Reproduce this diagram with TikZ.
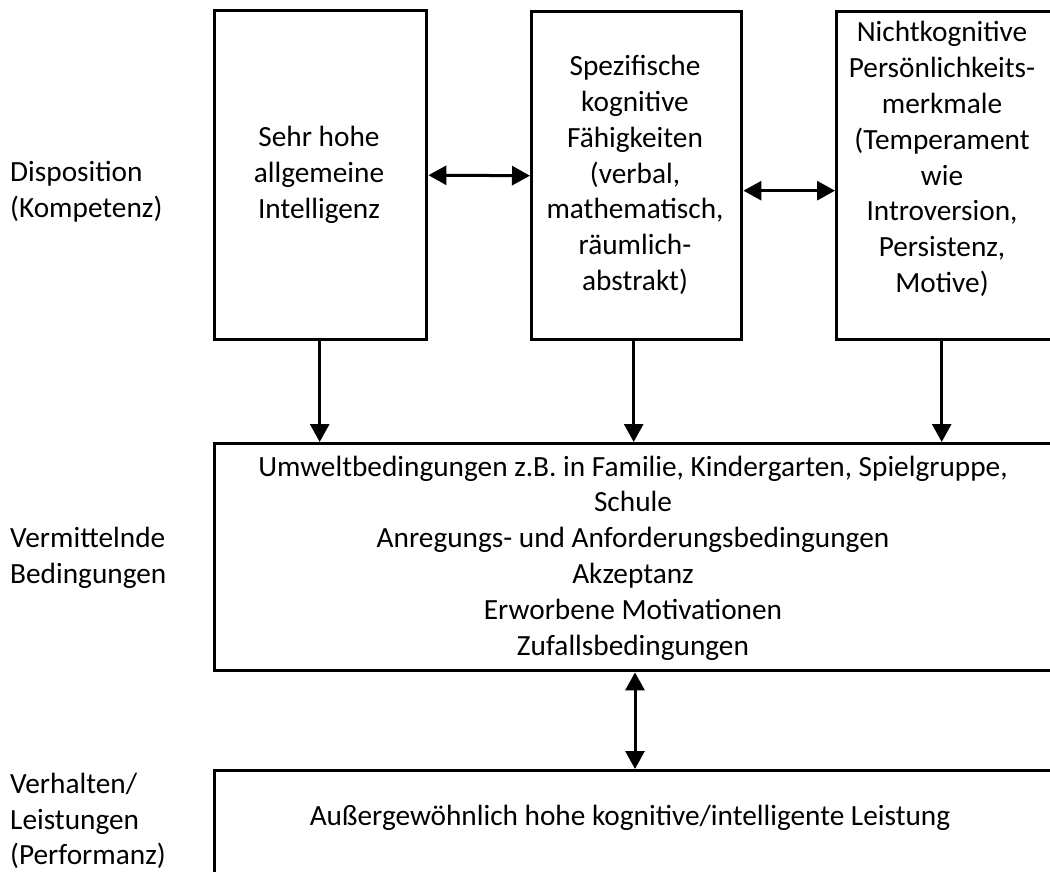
\documentclass[tikz,border=0pt]{standalone}
\usepackage{fontspec}
\setmainfont{Carlito}
\usetikzlibrary{arrows.meta}
\begin{document}
\begin{tikzpicture}[x=1pt,y=-1pt,
  font=\fontsize{29.3}{35.8}\selectfont,
  box/.style={draw,line width=3.4pt,rectangle,inner sep=0pt,anchor=north west},
  txt/.style={align=center,inner sep=0pt},
  side/.style={align=left,inner sep=0pt,anchor=west},
  arr/.style={line width=3pt,-{Triangle[width=19pt,length=18pt]}},
  darr/.style={line width=3pt,{Triangle[width=19pt,length=18pt]}-{Triangle[width=19pt,length=18pt]}}]
\useasboundingbox (0,0) rectangle (1050,872);
\clip (0,0) rectangle (1050,872);

% dispositional boxes
\node[box,minimum width=212pt,minimum height=329pt] (b1) at (213,9) {};
\node[box,minimum width=210pt,minimum height=328pt] (b2) at (530,10) {};
\node[box,minimum width=216pt,minimum height=328pt] (b3) at (835,10) {};
\node[txt] (t1) at (319,175) {Sehr hohe\\allgemeine\\Intelligenz};
\node[txt] (t2) at (635,175) {Spezifische\\kognitive\\Fähigkeiten\\(verbal,\\mathematisch,\\räumlich-\\abstrakt)};
\node[txt] (t3) at (942,159) {Nichtkognitive\\Persönlichkeits-\\merkmale\\(Temperament\\wie\\Introversion,\\Persistenz,\\Motive)};

% mediating conditions
\node[box,minimum width=842pt,minimum height=227pt] (m) at (213,442) {};
\node[txt] (tm) at (633,558) {Umweltbedingungen z.B. in Familie, Kindergarten, Spielgruppe,\\Schule\\Anregungs- und Anforderungsbedingungen\\Akzeptanz\\Erworbene Motivationen\\Zufallsbedingungen};

% performance
\node[box,minimum width=842pt,minimum height=130pt] (p) at (213,769) {};
\node[txt] (tp) at (630,818) {Außergewöhnlich hohe kognitive/intelligente Leistung};

% row labels
\node[side] (l1) at (10,192) {Disposition\\(Kompetenz)};
\node[side] (l2) at (10,558) {Vermittelnde\\Bedingungen};
\node[side] (l3) at (10,821) {Verhalten/\\Leistungen\\(Performanz)};

% connectors
\draw[darr] (b1.east) -- (b2.west);
\draw[darr] ([yshift=-15pt]b2.east) -- ([yshift=-15pt]b3.west);
\draw[arr] ([xshift=-1pt]b1.south) -- ([xshift=-1pt]b1.south |- m.north);
\draw[arr] ([xshift=-3pt]b2.south) -- ([xshift=-3pt]b2.south |- m.north);
\draw[arr] ([xshift=-3pt]b3.south) -- ([xshift=-3pt]b3.south |- m.north);
\draw[darr] (m.south -| 635,0) -- (p.north -| 635,0);
\end{tikzpicture}
\end{document}
